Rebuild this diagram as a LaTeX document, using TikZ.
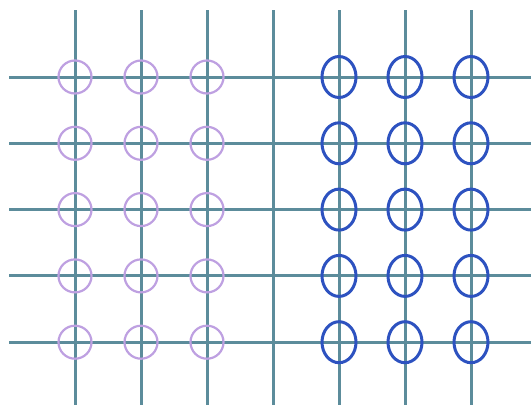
\documentclass[tikz,border=0pt]{standalone}
\usepackage{tikz}
\usepackage{xcolor}

\definecolor{gridteal}{RGB}{92,140,155}
\definecolor{ringpink}{RGB}{190,160,225}
\definecolor{ringblue}{RGB}{45,82,192}

\begin{document}
\begin{tikzpicture}[x=1pt,y=-1pt]
        \useasboundingbox (0,0) rectangle (531,405);
        % grid lines
        \foreach \n in {1,...,7}{
            \draw[gridteal, line width=3pt]
                ({75+(\n-1)*66}, 10) -- ({75+(\n-1)*66}, 405);
        }
        \foreach \m in {1,...,5}{
            \draw[gridteal, line width=3pt]
                (9, {77+(\m-1)*66.3}) -- (531, {77+(\m-1)*66.3});
        }
        % rings
        \foreach \n in {1,2,3}{
            \foreach \m in {1,...,5}{
                \draw[ringpink, line width=2.2pt]
                    ({75+(\n-1)*66}, {77+(\m-1)*66.3}) circle (16.5pt);
            }
        }
        \foreach \n in {5,6,7}{
            \foreach \m in {1,...,5}{
                \draw[ringblue, line width=3pt]
                    ({75+(\n-1)*66}, {77+(\m-1)*66.3})
                    ellipse [x radius=17pt, y radius=20.5pt];
            }
        }
    \end{tikzpicture}
\end{document}
